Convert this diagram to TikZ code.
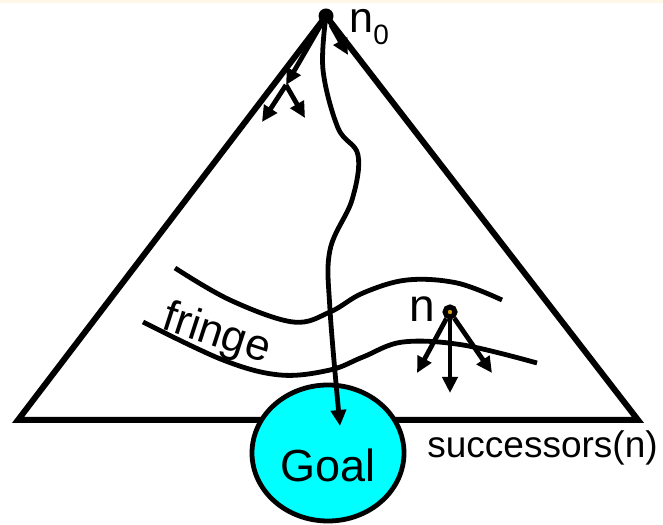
\documentclass[tikz,border=0pt]{standalone}
\usepackage{fontspec}
\setmainfont{Liberation Sans}
\usetikzlibrary{arrows.meta,positioning,calc,shapes.geometric}
\definecolor{goalcyan}{RGB}{0,255,255}
\definecolor{ngold}{RGB}{218,160,20}
\definecolor{topcream}{RGB}{255,248,232}
\tikzset{
  every picture/.style={x=1pt, y=1pt, line width=4.8pt},
  sside/.style={line width=6pt},
  sfringe/.style={line width=4.8pt},
  sarrow/.style={line width=4.8pt, -{Triangle[length=16pt,width=15pt]}},
  sroot/.style={circle, fill=black, inner sep=0pt, minimum size=15pt},
  snode/.style={circle, draw=black, fill=ngold, line width=5pt,
                inner sep=0pt, minimum size=10pt},
  sgoal/.style={ellipse, draw=black, fill=goalcyan, line width=4.8pt,
                inner sep=0pt, minimum width=152pt, minimum height=136pt,
                text height=58pt, text depth=0pt,
                font=\fontsize{45}{54}\selectfont},
  slabel/.style={inner sep=0pt},
}

\begin{document}
\begin{tikzpicture}
  \useasboundingbox (0,0) rectangle (663,524);
  \fill[topcream] (0,521) rectangle (663,524);
  % search space
  \coordinate (apex) at (326,508);
  \coordinate (L) at (18,104);
  \coordinate (R) at (638,104);
  \draw[sside] (L) -- (apex) -- (R) -- cycle;
  \node[sroot] (n0) at (apex) {};
  \node[slabel, anchor=base west, font=\fontsize{43}{50}\selectfont] (n0lbl)
        at (347,491) {n\raisebox{-12pt}{\fontsize{28}{32}\selectfont 0}};
  % first expansions
  \coordinate (c1) at (286,439);
  \coordinate (c11) at (262,402);
  \coordinate (c12) at (305,406);
  \coordinate (c2) at (348,469);
  \draw[sarrow] (n0) -- (c1);
  \draw[sarrow] (c1) -- (c11);
  \draw[sarrow] (c1) -- (c12);
  \draw[sarrow] (n0) -- (c2);
  % fringe
  \draw[sfringe] plot[smooth, tension=0.6] coordinates {(175,256) (230,224)
        (293,202) (330,212) (363,231) (407,244) (457,241) (502,224)};
  \draw[sfringe] plot[smooth, tension=0.6] coordinates {(143,202) (223,164)
        (280,149) (330,154) (363,167) (403,182) (463,179) (537,161)};
  \node[slabel, anchor=base, rotate=-18, font=\fontsize{44}{52}\selectfont]
        (fringelbl) at (213,178) {fringe};
  % node n and its successors
  \node[snode] (n) at (450,212) {};
  \node[slabel, anchor=base west, font=\fontsize{46}{54}\selectfont] (nlbl)
        at (407,202) {n};
  \coordinate (s1) at (417,151);
  \coordinate (s2) at (450,131);
  \coordinate (s3) at (492,151);
  \foreach \s in {s1,s2,s3} \draw[sarrow] (n) -- (\s);
  \node[slabel, anchor=base west, font=\fontsize{37}{44}\selectfont] (succ)
        at (425,66) {successors(n)};
  % goal
  \node[sgoal] (goal) at (328,71) {Goal};
  \coordinate (gtip) at (340,98);
  \draw[sarrow] plot[smooth, tension=0.6] coordinates {(n0) (323,454)
        (338,396) (358,369) (352,324) (330,274) (330,214) (gtip)};
\end{tikzpicture}
\end{document}
